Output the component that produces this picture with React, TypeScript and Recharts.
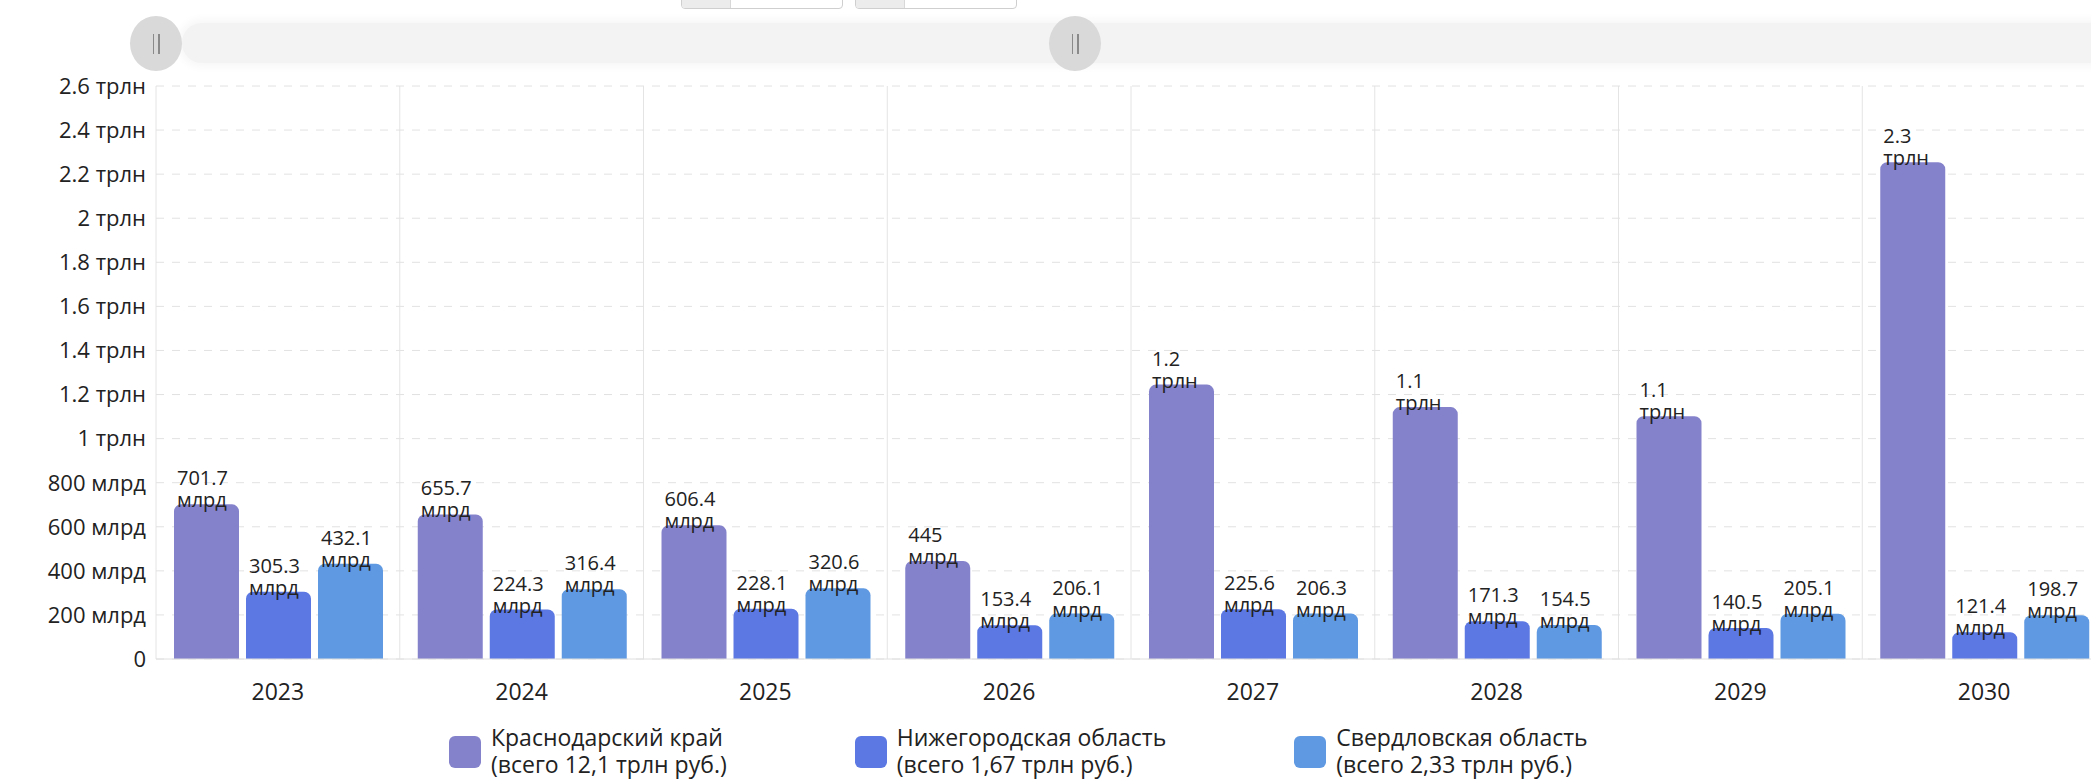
import React from "react";
import { BarChart, Bar, XAxis, YAxis, CartesianGrid, LabelList } from "recharts";

// значения в млрд руб.
const years = ["2023", "2024", "2025", "2026", "2027", "2028", "2029", "2030"];
const krasnodar = [701.7, 655.7, 606.4, 445, 1245, 1143, 1102, 2254];
const nizhny = [305.3, 224.3, 228.1, 153.4, 225.6, 171.3, 140.5, 121.4];
const sverdlovsk = [432.1, 316.4, 320.6, 206.1, 206.3, 154.5, 205.1, 198.7];
const yTicks = [0, 200, 400, 600, 800, 1000, 1200, 1400, 1600, 1800, 2000, 2200, 2400, 2600];

const seriesNames = ["Краснодарский край", "Нижегородская область", "Свердловская область"];
const seriesTotals = ["(всего 12,1 трлн руб.)", "(всего 1,67 трлн руб.)", "(всего 2,33 трлн руб.)"];
const seriesColors = ["#8582cc", "#5c78e2", "#5f99e2"];

const chartData = years.map((year, i) => ({
  year,
  krasnodar: krasnodar[i],
  nizhny: nizhny[i],
  sverdlovsk: sverdlovsk[i],
}));

const FONT = "'Open Sans', sans-serif";

function splitValue(v: number) {
  if (v >= 1000) return { num: String(Number((v / 1000).toFixed(1))), unit: "трлн" };
  return { num: String(Number(v.toFixed(1))), unit: "млрд" };
}

function formatTick(v: number) {
  if (v === 0) return "0";
  const { num, unit } = splitValue(v);
  return `${num} ${unit}`;
}

// two-line label: number above, unit just over the bar top
const BarLabel = (props: any) => {
  const { x, y, value } = props;
  const { num, unit } = splitValue(value);
  return (
    <g fill="#222" fontSize={20} fontFamily={FONT}>
      <text x={x + 3} y={y - 19}>{num}</text>
      <text x={x + 3} y={y + 3}>{unit}</text>
    </g>
  );
};

const bandLines = ({ offset }: any) => {
  const n = years.length;
  const step = offset.width / n;
  return Array.from({ length: n + 1 }, (_, i) => offset.left + i * step);
};

function TopControls() {
  return (
    <>
      {[681, 855].map((left) => (
        <div
          key={left}
          style={{
            position: "absolute",
            left,
            top: -4,
            width: 160,
            height: 11,
            border: "1px solid #cfcfcf",
            borderRadius: 4,
            background: "#fff",
            overflow: "hidden",
          }}
        >
          <div style={{ width: 48, height: "100%", background: "#ececec", borderRight: "1px solid #d8d8d8" }} />
        </div>
      ))}
      <div
        style={{
          position: "absolute",
          left: 182,
          top: 23,
          width: 1930,
          height: 40,
          borderRadius: 20,
          background: "#f3f3f3",
          boxShadow: "0 0 8px 4px #f7f7f7",
        }}
      />
      {[156, 1075].map((cx) => (
        <div
          key={cx}
          style={{
            position: "absolute",
            left: cx - 26,
            top: 16,
            width: 52,
            height: 55,
            borderRadius: "50%",
            background: "#d9d9d9",
            display: "flex",
            justifyContent: "center",
            alignItems: "center",
            gap: 4,
          }}
        >
          <div style={{ width: 1.5, height: 20, background: "#8a8a8a" }} />
          <div style={{ width: 1.5, height: 20, background: "#8a8a8a" }} />
        </div>
      ))}
    </>
  );
}

function LegendBlock() {
  return (
    <div
      style={{
        position: "absolute",
        left: 449,
        top: 724,
        display: "flex",
        gap: 128,
        fontFamily: FONT,
        fontSize: 23,
        color: "#222",
        lineHeight: "27px",
      }}
    >
      {seriesNames.map((name, i) => (
        <div key={name} style={{ display: "flex", alignItems: "flex-start", gap: 10 }}>
          <div
            style={{
              width: 32,
              height: 32,
              marginTop: 12,
              borderRadius: 6,
              background: seriesColors[i],
              flex: "none",
            }}
          />
          <div style={{ whiteSpace: "nowrap" }}>
            <div>{name}</div>
            <div>{seriesTotals[i]}</div>
          </div>
        </div>
      ))}
    </div>
  );
}

export default function App() {
  return (
    <div
      style={{
        position: "absolute",
        left: 0,
        top: 0,
        width: 2091,
        height: 781,
        overflow: "hidden",
        background: "#fff",
      }}
    >
      <TopControls />
      <div style={{ position: "absolute", left: 0, top: 0 }}>
        <BarChart
          width={2110}
          height={781}
          data={chartData}
          margin={{ top: 86, right: 4, bottom: 0, left: 0 }}
          barCategoryGap={18}
          barGap={7}
        >
          <CartesianGrid
            stroke="#e4e4e4"
            horizontal={false}
            vertical={true}
            verticalCoordinatesGenerator={bandLines}
          />
          <CartesianGrid stroke="#e2e2e2" strokeDasharray="8 8" vertical={false} />
          <XAxis
            dataKey="year"
            height={122}
            tickLine={false}
            axisLine={{ stroke: "#e0e0e0" }}
            tickMargin={19}
            tick={{ fill: "#222", fontSize: 23, fontFamily: FONT }}
          />
          <YAxis
            width={156}
            domain={[0, 2600]}
            ticks={yTicks}
            interval={0}
            tickFormatter={formatTick}
            tickLine={false}
            axisLine={false}
            tickMargin={4}
            tick={{ fill: "#222", fontSize: 22, fontFamily: FONT }}
          />
          <Bar dataKey="krasnodar" fill={seriesColors[0]} radius={[7, 7, 0, 0]} isAnimationActive={false}>
            <LabelList dataKey="krasnodar" content={BarLabel} />
          </Bar>
          <Bar dataKey="nizhny" fill={seriesColors[1]} radius={[7, 7, 0, 0]} isAnimationActive={false}>
            <LabelList dataKey="nizhny" content={BarLabel} />
          </Bar>
          <Bar dataKey="sverdlovsk" fill={seriesColors[2]} radius={[7, 7, 0, 0]} isAnimationActive={false}>
            <LabelList dataKey="sverdlovsk" content={BarLabel} />
          </Bar>
        </BarChart>
      </div>
      <LegendBlock />
    </div>
  );
}
